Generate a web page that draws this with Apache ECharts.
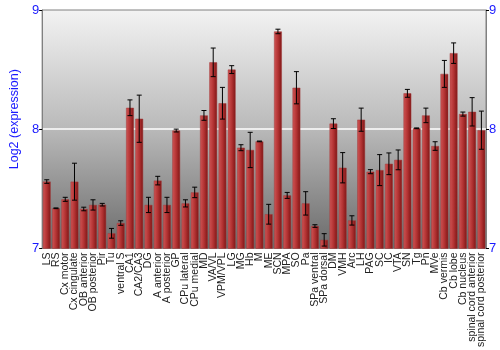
<!DOCTYPE html>
<html><head><meta charset="utf-8">
<script src="https://cdn.jsdelivr.net/npm/echarts@6/dist/echarts.min.js"></script>
<style>html,body{margin:0;padding:0;background:#fff}#c{width:500px;height:350px}</style>
</head><body><div id="c"></div>
<script>
var categories = ["LS","RS","Cx motor","Cx cingulate","OB anterior","OB posterior","Pir","Tu","ventral S","CA1","CA2/CA3","DG","A anterior","A posterior","GP","CPu lateral","CPu medial","MD","VA/VL","VPM/VPL","LG","MG","Hb","M","ME","SCN","MPA","SO","Pa","SPa ventral","SPa dorsal","DM","VMH","Arc","LH","PAG","SC","IC","VTA","SN","Tg","Pn","MVe","Cb vermis","Cb lobe","Cb nucleus","spinal cord anterior","spinal cord posterior"];
var values = [7.561,7.337,7.412,7.56,7.331,7.365,7.367,7.127,7.213,8.18,8.088,7.365,7.569,7.365,7.989,7.378,7.47,8.116,8.561,8.218,8.5,7.845,7.826,7.898,7.287,8.82,7.445,8.348,7.378,7.188,7.072,8.047,7.677,7.235,8.08,7.644,7.657,7.71,7.743,8.301,8.008,8.116,7.859,8.464,8.638,8.127,8.146,7.992];
var errors = [0.015,0.003,0.017,0.155,0.015,0.043,0.011,0.041,0.019,0.066,0.198,0.064,0.036,0.064,0.012,0.03,0.044,0.041,0.12,0.133,0.033,0.025,0.148,0.003,0.083,0.019,0.025,0.135,0.098,0.011,0.052,0.041,0.127,0.039,0.097,0.017,0.13,0.091,0.083,0.033,0.003,0.061,0.036,0.113,0.086,0.017,0.119,0.16];
var yTicks = [7, 8, 9];

var chart = echarts.init(document.getElementById('c'), null, {renderer:'canvas'});
var errData = categories.map(function(c,i){ return [i, values[i]-errors[i], values[i]+errors[i]]; });
var axisCommon = {
  type:'value', min:yTicks[0], max:yTicks[yTicks.length-1], interval:1,
  axisLine:{show:true, lineStyle:{color:'#808080', width:1}},
  axisTick:{show:true, length:3, lineStyle:{color:'#000'}},
  axisLabel:{color:'#1a1aff', fontSize:13, fontFamily:'Liberation Sans, Arial', margin:3},
};
chart.setOption({
  animation:false,
  grid:{left:28, right:14, top:10, bottom:99, show:true, borderColor:'#808080', borderWidth:1,
    backgroundColor:new echarts.graphic.LinearGradient(0,0,0,1,[{offset:0,color:'#f3f3f3'},{offset:0.5,color:'#b9b9b9'},{offset:1,color:'#6a6a6a'}])},
  xAxis:{type:'category', data:categories,
    axisLine:{show:false}, axisTick:{show:false},
    axisLabel:{interval:0, rotate:90, fontSize:10.5, color:'#222', fontFamily:'Liberation Sans, Arial', margin:4}},
  yAxis:[
    Object.assign({}, axisCommon, {position:'left', name:'Log2 (expression)', nameLocation:'middle', nameGap:12,
      nameTextStyle:{color:'#1a1aff', fontSize:12.5, fontFamily:'Liberation Sans, Arial', padding:[0,0,0,20]},
      splitLine:{show:true, lineStyle:{color:['transparent','#ffffff','transparent'], width:1.5}}}),
    Object.assign({}, axisCommon, {position:'right', splitLine:{show:false}})
  ],
  series:[
    {type:'bar', data:values, barWidth:'84%',
      itemStyle:{color:new echarts.graphic.LinearGradient(0,0,1,0,[{offset:0,color:'#cf5555'},{offset:0.5,color:'#b33333'},{offset:1,color:'#7e1515'}]),
        borderColor:'#a23a3a', borderWidth:0.5}},
    {type:'custom', data:errData, z:5,
      renderItem:function(params, api){
        var x = api.value(0);
        var lo = api.coord([x, api.value(1)]);
        var hi = api.coord([x, api.value(2)]);
        var hw = 2.5;
        var st = {stroke:'#000', lineWidth:1};
        return {type:'group', children:[
          {type:'line', shape:{x1:lo[0],y1:lo[1],x2:hi[0],y2:hi[1]}, style:st},
          {type:'line', shape:{x1:lo[0]-hw,y1:lo[1],x2:lo[0]+hw,y2:lo[1]}, style:st},
          {type:'line', shape:{x1:hi[0]-hw,y1:hi[1],x2:hi[0]+hw,y2:hi[1]}, style:st}
        ]};
      }}
  ]
});
</script></body></html>
